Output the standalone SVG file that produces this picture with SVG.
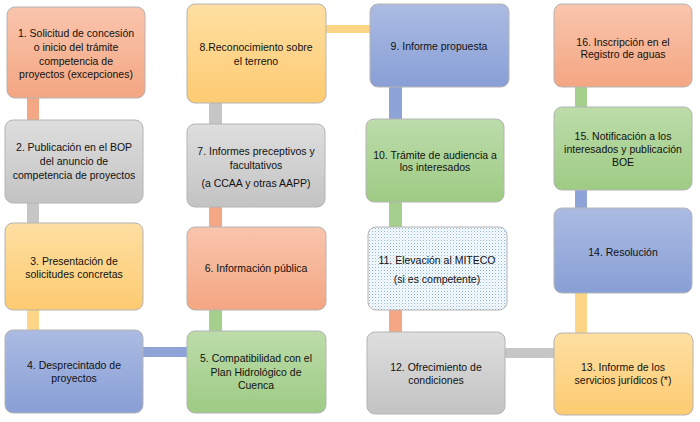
<svg xmlns="http://www.w3.org/2000/svg" width="700" height="422" viewBox="0 0 700 422">
<defs>
<linearGradient id="gO" x1="0" y1="0" x2="0" y2="1"><stop offset="0" stop-color="#f9c5ad"/><stop offset="1" stop-color="#f4a682"/></linearGradient>
<linearGradient id="gG" x1="0" y1="0" x2="0" y2="1"><stop offset="0" stop-color="#dedede"/><stop offset="1" stop-color="#c3c3c3"/></linearGradient>
<linearGradient id="gY" x1="0" y1="0" x2="0" y2="1"><stop offset="0" stop-color="#fedfa2"/><stop offset="1" stop-color="#fdcb71"/></linearGradient>
<linearGradient id="gB" x1="0" y1="0" x2="0" y2="1"><stop offset="0" stop-color="#abbbe2"/><stop offset="1" stop-color="#889fd6"/></linearGradient>
<linearGradient id="gN" x1="0" y1="0" x2="0" y2="1"><stop offset="0" stop-color="#bcdcaa"/><stop offset="1" stop-color="#9ecb84"/></linearGradient>
<pattern id="dots" width="3" height="3" patternUnits="userSpaceOnUse"><rect width="3" height="3" fill="#f7fafd"/><rect x="0" y="0" width="1" height="1" fill="#8db8e2"/><rect x="1.5" y="1.5" width="1" height="1" fill="#c3daf0"/></pattern>
</defs>
<style>
.box{stroke:#b4b4b4;stroke-width:1}
.o{fill:url(#gO)}.g{fill:url(#gG)}.y{fill:url(#gY)}.b{fill:url(#gB)}.n{fill:url(#gN)}.d{fill:url(#dots)}
text{font-family:"Liberation Sans",Arial,sans-serif;font-size:10.5px;fill:#111111;text-anchor:middle}
.co{fill:#f4a785}.cg{fill:#c6c6c6}.cy{fill:#fdd587}.cb{fill:#8ea4d9}.cn{fill:#a5cf8c}
</style>
<g id="connectors">
<rect class="co" x="27" y="97" width="12" height="24"/>
<rect class="cg" x="27" y="202" width="12" height="22"/>
<rect class="cy" x="27" y="309" width="12" height="22"/>
<rect class="cb" x="142" y="347" width="46" height="10"/>
<rect class="cn" x="209" y="309" width="13" height="23"/>
<rect class="co" x="209" y="206" width="13" height="22"/>
<rect class="cg" x="209" y="102" width="13" height="23"/>
<rect class="cy" x="325" y="25" width="46" height="8"/>
<rect class="cb" x="389" y="86" width="13" height="34"/>
<rect class="cn" x="389" y="201" width="13" height="27"/>
<rect class="co" x="389" y="309" width="13" height="24"/>
<rect class="cg" x="504" y="348" width="51" height="10"/>
<rect class="cy" x="575" y="292" width="12" height="42"/>
<rect class="cb" x="575" y="189" width="12" height="20"/>
<rect class="cn" x="575" y="86" width="12" height="22"/>
</g>
<g id="n1"><rect class="box o" x="7" y="7" width="138" height="91" rx="8"/>
<text x="76" y="37">1. Solicitud de concesión</text><text x="76" y="51">o inicio del trámite</text><text x="76" y="65">competencia de</text><text x="76" y="78">proyectos (excepciones)</text></g>
<g id="n2"><rect class="box g" x="5" y="120" width="138" height="83" rx="8"/>
<text x="74" y="151">2. Publicación en el BOP</text><text x="74" y="165">del anuncio de</text><text x="74" y="179">competencia de proyectos</text></g>
<g id="n3"><rect class="box y" x="5" y="223" width="138" height="87" rx="8"/>
<text x="74" y="265">3. Presentación de</text><text x="74" y="278">solicitudes concretas</text></g>
<g id="n4"><rect class="box b" x="5" y="330" width="138" height="83" rx="8"/>
<text x="74" y="369">4. Desprecintado de</text><text x="74" y="382">proyectos</text></g>
<g id="n5"><rect class="box n" x="187" y="331" width="139" height="82" rx="8"/>
<text x="256" y="362">5. Compatibilidad con el</text><text x="256" y="376">Plan Hidrológico de</text><text x="256" y="389">Cuenca</text></g>
<g id="n6"><rect class="box o" x="187" y="227" width="139" height="83" rx="8"/>
<text x="256" y="272">6. Información pública</text></g>
<g id="n7"><rect class="box g" x="187" y="124" width="138" height="83" rx="8"/>
<text x="256" y="155">7. Informes preceptivos y</text><text x="256" y="169">facultativos</text><text x="256" y="187">(a CCAA y otras AAPP)</text></g>
<g id="n8"><rect class="box y" x="187" y="4" width="139" height="99" rx="8"/>
<text x="256" y="51">8.Reconocimiento sobre</text><text x="256" y="65">el terreno</text></g>
<g id="n9"><rect class="box b" x="370" y="4" width="139" height="83" rx="8"/>
<text x="439" y="50">9. Informe propuesta</text></g>
<g id="n10"><rect class="box n" x="366" y="119" width="138" height="83" rx="8"/>
<text x="435" y="159">10. Trámite de audiencia a</text><text x="435" y="171">los interesados</text></g>
<g id="n11"><rect class="box d" x="368" y="227" width="139" height="83" rx="8"/>
<text x="437" y="264">11. Elevación al MITECO</text><text x="437" y="283">(si es competente)</text></g>
<g id="n12"><rect class="box g" x="367" y="332" width="138" height="82" rx="8"/>
<text x="436" y="371">12. Ofrecimiento de</text><text x="436" y="384">condiciones</text></g>
<g id="n13"><rect class="box y" x="554" y="333" width="139" height="82" rx="8"/>
<text x="623" y="371">13. Informe de los</text><text x="623" y="384">servicios jurídicos (*)</text></g>
<g id="n14"><rect class="box b" x="554" y="208" width="138" height="85" rx="8"/>
<text x="623" y="256">14. Resolución</text></g>
<g id="n15"><rect class="box n" x="554" y="107" width="138" height="83" rx="8"/>
<text x="623" y="140">15. Notificación a los</text><text x="623" y="153">interesados y publicación</text><text x="623" y="166">BOE</text></g>
<g id="n16"><rect class="box o" x="554" y="4" width="138" height="83" rx="8"/>
<text x="623" y="46">16. Inscripción en el</text><text x="623" y="58">Registro de aguas</text></g>
</svg>
